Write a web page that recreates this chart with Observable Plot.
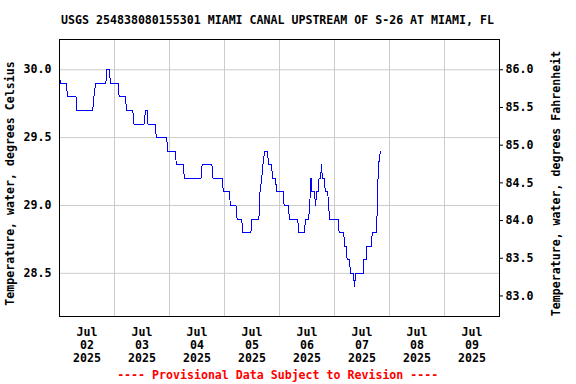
<!DOCTYPE html>
<html>
<head>
<meta charset="utf-8">
<script src="https://cdn.jsdelivr.net/npm/d3@7"></script>
<script src="https://cdn.jsdelivr.net/npm/@observablehq/plot@0.6"></script>
<style>
  html, body { margin: 0; padding: 0; background: white; }
  svg { display: block; }
</style>
</head>
<body>
<script>
const title = "USGS 254838080155301 MIAMI CANAL UPSTREAM OF S-26 AT MIAMI, FL";
const leftLabel = "Temperature, water, degrees Celsius";
const rightLabel = "Temperature, water, degrees Fahrenheit";
const footer = "---- Provisional Data Subject to Revision ----";

// Observation vertices (UTC-naive timestamps) and water temperature, °C
const times = [
  "2025-07-02T00:00","2025-07-02T00:30","2025-07-02T03:00","2025-07-02T03:30",
  "2025-07-02T07:15","2025-07-02T07:30","2025-07-02T14:30","2025-07-02T15:00",
  "2025-07-02T15:45","2025-07-02T20:15","2025-07-02T20:30","2025-07-02T21:45",
  "2025-07-02T22:15","2025-07-03T01:45","2025-07-03T02:00","2025-07-03T04:45",
  "2025-07-03T05:15","2025-07-03T08:00","2025-07-03T08:30","2025-07-03T13:00",
  "2025-07-03T13:30","2025-07-03T14:15","2025-07-03T14:30","2025-07-03T17:45",
  "2025-07-03T18:15","2025-07-03T22:45","2025-07-03T23:15","2025-07-04T02:30",
  "2025-07-04T03:00","2025-07-04T06:00","2025-07-04T06:30","2025-07-04T13:45",
  "2025-07-04T14:15","2025-07-04T18:30","2025-07-04T19:00","2025-07-04T23:00",
  "2025-07-04T23:30","2025-07-05T02:15","2025-07-05T02:30","2025-07-05T05:00",
  "2025-07-05T05:30","2025-07-05T07:30","2025-07-05T08:00","2025-07-05T11:30",
  "2025-07-05T12:00","2025-07-05T15:00","2025-07-05T15:30","2025-07-05T16:15",
  "2025-07-05T16:45","2025-07-05T17:30","2025-07-05T18:45","2025-07-05T19:15",
  "2025-07-05T20:30","2025-07-05T21:00","2025-07-05T22:15","2025-07-05T22:45",
  "2025-07-06T01:45","2025-07-06T02:00","2025-07-06T04:00","2025-07-06T04:15",
  "2025-07-06T08:00","2025-07-06T08:15","2025-07-06T11:00","2025-07-06T11:15",
  "2025-07-06T12:45","2025-07-06T13:30","2025-07-06T13:45","2025-07-06T14:00",
  "2025-07-06T15:15","2025-07-06T15:45","2025-07-06T16:15","2025-07-06T17:00",
  "2025-07-06T17:15","2025-07-06T18:00","2025-07-06T18:15","2025-07-06T18:45",
  "2025-07-06T19:30","2025-07-06T20:00","2025-07-06T21:00","2025-07-06T21:30",
  "2025-07-06T21:45","2025-07-07T01:45","2025-07-07T02:00","2025-07-07T04:00",
  "2025-07-07T04:30","2025-07-07T05:15","2025-07-07T05:30","2025-07-07T06:30",
  "2025-07-07T07:00","2025-07-07T08:15","2025-07-07T08:45","2025-07-07T09:15",
  "2025-07-07T12:30","2025-07-07T12:45","2025-07-07T13:45","2025-07-07T14:00",
  "2025-07-07T16:00","2025-07-07T16:30","2025-07-07T18:15","2025-07-07T18:45",
  "2025-07-07T19:00","2025-07-07T19:15","2025-07-07T20:00"
];
const tempC = [
  29.95,29.9,29.9,29.8,
  29.8,29.7,29.7,29.8,
  29.9,29.9,30.0,30.0,
  29.9,29.9,29.8,29.8,
  29.7,29.7,29.6,29.6,
  29.7,29.7,29.6,29.6,
  29.5,29.5,29.4,29.4,
  29.3,29.3,29.2,29.2,
  29.3,29.3,29.2,29.2,
  29.1,29.1,29.0,29.0,
  28.9,28.9,28.8,28.8,
  28.9,28.9,29.1,29.2,
  29.3,29.4,29.4,29.3,
  29.3,29.2,29.2,29.1,
  29.1,29.0,29.0,28.9,
  28.9,28.8,28.8,28.9,
  28.9,29.1,29.2,29.1,
  29.1,29.0,29.1,29.1,
  29.2,29.2,29.3,29.2,
  29.2,29.1,29.1,29.0,
  28.9,28.9,28.8,28.8,
  28.7,28.7,28.6,28.6,
  28.5,28.5,28.4,28.5,
  28.5,28.6,28.6,28.7,
  28.7,28.8,28.8,29.0,
  29.2,29.3,29.4
];

const xDomain = ["2025-07-02T00:00", "2025-07-10T00:00"];
const dayLabelTimes = ["2025-07-02T12:00","2025-07-03T12:00","2025-07-04T12:00","2025-07-05T12:00",
                       "2025-07-06T12:00","2025-07-07T12:00","2025-07-08T12:00","2025-07-09T12:00"];
const dayGridTimes = ["2025-07-03T00:00","2025-07-04T00:00","2025-07-05T00:00","2025-07-06T00:00",
                      "2025-07-07T00:00","2025-07-08T00:00","2025-07-09T00:00"];
const monthName = "Jul";
const celsiusTicks = [28.5, 29.0, 29.5, 30.0];
const fahrenheitTicks = [83.0, 83.5, 84.0, 84.5, 85.0, 85.5, 86.0];
const yDomain = [28.182, 30.223];

const utc = s => new Date(s + "Z");
const data = times.map((t, i) => ({date: utc(t), c: tempC[i]}));

const chart = Plot.plot({
  width: 576,
  height: 384,
  marginTop: 39,
  marginBottom: 68,
  marginLeft: 59,
  marginRight: 77,
  style: {
    fontFamily: "'DejaVu Sans Mono', monospace",
    fontWeight: "bold",
    fontSize: "11.6px",
    background: "white",
    color: "black",
    overflow: "visible"
  },
  x: {type: "utc", domain: xDomain.map(utc)},
  y: {domain: yDomain},
  marks: [
    Plot.gridX(dayGridTimes.map(utc), {stroke: "#cccccc", strokeOpacity: 1}),
    Plot.gridY(celsiusTicks, {stroke: "#cccccc", strokeOpacity: 1}),
    Plot.line(data, {x: "date", y: "c", stroke: "#0000ff", strokeWidth: 1, shapeRendering: "crispEdges"}),
    Plot.frame({stroke: "black"}),
    Plot.axisY(celsiusTicks, {anchor: "left", tickSize: 0, tickPadding: 8,
      tickFormat: d => d.toFixed(1), label: null}),
    Plot.axisY(fahrenheitTicks.map(f => (f - 32) / 1.8), {anchor: "right", tickSize: 3, tickPadding: 3,
      tickFormat: d => (d * 1.8 + 32).toFixed(1), label: null}),
    Plot.axisX(dayLabelTimes.map(utc), {anchor: "bottom", tickSize: 0, tickPadding: 10, lineHeight: 1.12,
      tickFormat: d => `${monthName}\n${String(d.getUTCDate()).padStart(2, "0")}\n${d.getUTCFullYear()}`,
      label: null})
  ]
});

const svg = d3.select(chart);
svg.append("text")
  .attr("x", 277.5).attr("y", 24)
  .attr("text-anchor", "middle")
  .attr("fill", "black")
  .text(title);
svg.append("text")
  .attr("transform", "translate(13.7,183.5) rotate(-90)")
  .attr("text-anchor", "middle")
  .attr("fill", "black")
  .text(leftLabel);
svg.append("text")
  .attr("transform", "translate(560,183.5) rotate(-90)")
  .attr("text-anchor", "middle")
  .attr("fill", "black")
  .text(rightLabel);
svg.append("text")
  .attr("x", 277.7).attr("y", 378.5)
  .attr("text-anchor", "middle")
  .attr("fill", "#ff0000")
  .text(footer);

document.body.appendChild(chart);
</script>
</body>
</html>
